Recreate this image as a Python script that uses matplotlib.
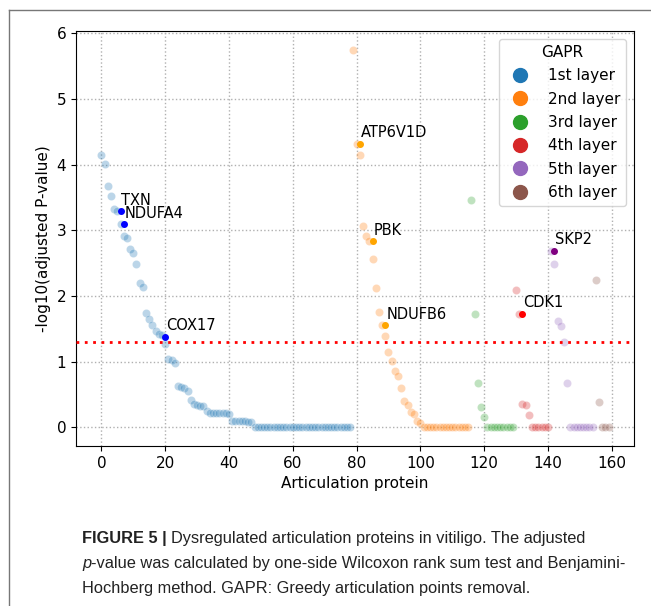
import matplotlib
matplotlib.use("Agg")
import matplotlib.pyplot as plt
from matplotlib import font_manager
from matplotlib.lines import Line2D
import numpy as np

# -log10(adjusted p) per articulation protein, grouped by GAPR layer
layer_names = ["1st layer", "2nd layer", "3rd layer", "4th layer", "5th layer", "6th layer"]
layer_colors = ["tab:blue", "tab:orange", "tab:green", "tab:red", "tab:purple", "tab:brown"]

layer1 = [4.14, 4.01, 3.67, 3.53, 3.33, 3.30, 3.10, 2.91, 2.89, 2.71, 2.66, 2.48,
          2.19, 2.13, 1.74, 1.65, 1.56, 1.47, 1.42, 1.40, 1.27, 1.04, 1.02, 0.98,
          0.62, 0.61, 0.59, 0.55, 0.42, 0.36, 0.33, 0.32, 0.32, 0.25, 0.22, 0.21,
          0.21, 0.21, 0.21, 0.21, 0.20, 0.09, 0.09, 0.09, 0.09, 0.09, 0.08, 0.08] + [0.0] * 31
layer2 = [5.75, 4.32, 4.14, 3.06, 2.92, 2.83, 2.57, 2.12, 1.75, 1.55, 1.39, 1.14,
          1.01, 0.86, 0.78, 0.60, 0.40, 0.33, 0.23, 0.20, 0.10, 0.07] + [0.0] * 15
layer3 = [3.46, 1.73, 0.68, 0.31, 0.16] + [0.0] * 9
layer4 = [2.09, 1.73, 0.35, 0.33, 0.18] + [0.0] * 6
layer5 = [2.69, 2.48, 1.62, 1.54, 1.30, 0.67] + [0.0] * 8
layer6 = [2.25, 0.38, 0.0, 0.0, 0.0]
layers = [layer1, layer2, layer3, layer4, layer5, layer6]

# highlighted proteins
hl_names = ["TXN", "NDUFA4", "COX17", "ATP6V1D", "PBK", "NDUFB6", "CDK1", "SKP2"]
hl_x = [6, 7, 20, 81, 85, 89, 132, 142]
hl_y = [3.29, 3.09, 1.38, 4.32, 2.83, 1.55, 1.73, 2.69]
hl_colors = ["blue", "blue", "blue", "orange", "orange", "orange", "red", "purple"]

threshold = -np.log10(0.05)

caption_lines = [
    [("FIGURE 5 |", "bold", "normal"),
     ("Dysregulated articulation proteins in vitiligo. The adjusted", "normal", "normal")],
    [("p", "normal", "italic"),
     ("-value was calculated by one-side Wilcoxon rank sum test and Benjamini-", "normal", "normal")],
    [("Hochberg method. GAPR: Greedy articulation points removal.", "normal", "normal")],
]

W, H = 651, 606
fig = plt.figure(figsize=(W / 100, H / 100), dpi=100)
ax = fig.add_axes([76 / W, 1 - 446 / H, (634 - 76) / W, (446 - 31) / H])

start = 0
for name, color, vals in zip(layer_names, layer_colors, layers):
    x = np.arange(start, start + len(vals))
    ax.scatter(x, vals, s=34, color=color, alpha=0.3, edgecolors="white",
               linewidths=0.4, zorder=2)
    start += len(vals)

ax.axhline(threshold, color="red", linestyle=(0, (1, 2)), linewidth=2, zorder=3)

for name, hx, hy, c in zip(hl_names, hl_x, hl_y, hl_colors):
    ax.scatter([hx], [hy], s=16, color=c, zorder=4)
    ax.text(hx + 0.3, hy + 0.1, name, fontsize=10.5, zorder=5)

ax.grid(True, linestyle=":", color="#b0b0b0", linewidth=1)
ax.set_axisbelow(True)
ax.set_xticks(np.arange(0, 161, 20))
ax.set_yticks(range(7))
ax.tick_params(labelsize=11)
ax.set_xlabel("Articulation protein", fontsize=11)
ax.set_ylabel("-log10(adjusted P-value)", fontsize=11)

handles = [Line2D([], [], marker="o", linestyle="", color=c, markersize=10, label=n)
           for n, c in zip(layer_names, layer_colors)]
ax.legend(handles=handles, title="GAPR", loc="upper right", fontsize=11,
          title_fontsize=11, labelspacing=0.55)

# frame lines of the figure panel
fig.add_artist(Line2D([9 / W, 1], [1 - 10 / H, 1 - 10 / H], transform=fig.transFigure,
                      color="#777777", linewidth=1))
fig.add_artist(Line2D([9 / W, 9 / W], [1 - 10 / H, 0], transform=fig.transFigure,
                      color="#777777", linewidth=1))

# caption
font_names = {f.name for f in font_manager.fontManager.ttflist}
cap_font = "Liberation Sans Narrow" if "Liberation Sans Narrow" in font_names else "Liberation Sans"
renderer = fig.canvas.get_renderer()


def text_width(s, size, weight="normal", style="normal"):
    t = fig.text(0, 0, s, fontsize=size, family=cap_font, weight=weight, style=style)
    w = t.get_window_extent(renderer).width
    t.remove()
    return w


def line_width(pieces, size):
    space = text_width("a a", size) - text_width("aa", size)
    total = 0
    for s, wgt, sty in pieces:
        total += text_width(s, size, wgt, sty)
        if s == "FIGURE 5 |":
            total += space
    return total


base = 12
cap_size = base * 546 / line_width(caption_lines[1], base)
space_w = text_width("a a", cap_size) - text_width("aa", cap_size)
baselines = [543, 568, 593]
for pieces, yb in zip(caption_lines, baselines):
    xpos = 82
    for s, wgt, sty in pieces:
        fig.text(xpos / W, 1 - yb / H, s, fontsize=cap_size, family=cap_font,
                 weight=wgt, style=sty, va="baseline", color="#222222")
        xpos += text_width(s, cap_size, wgt, sty)
        if s == "FIGURE 5 |":
            xpos += space_w

fig.savefig("out.png", dpi=100)
